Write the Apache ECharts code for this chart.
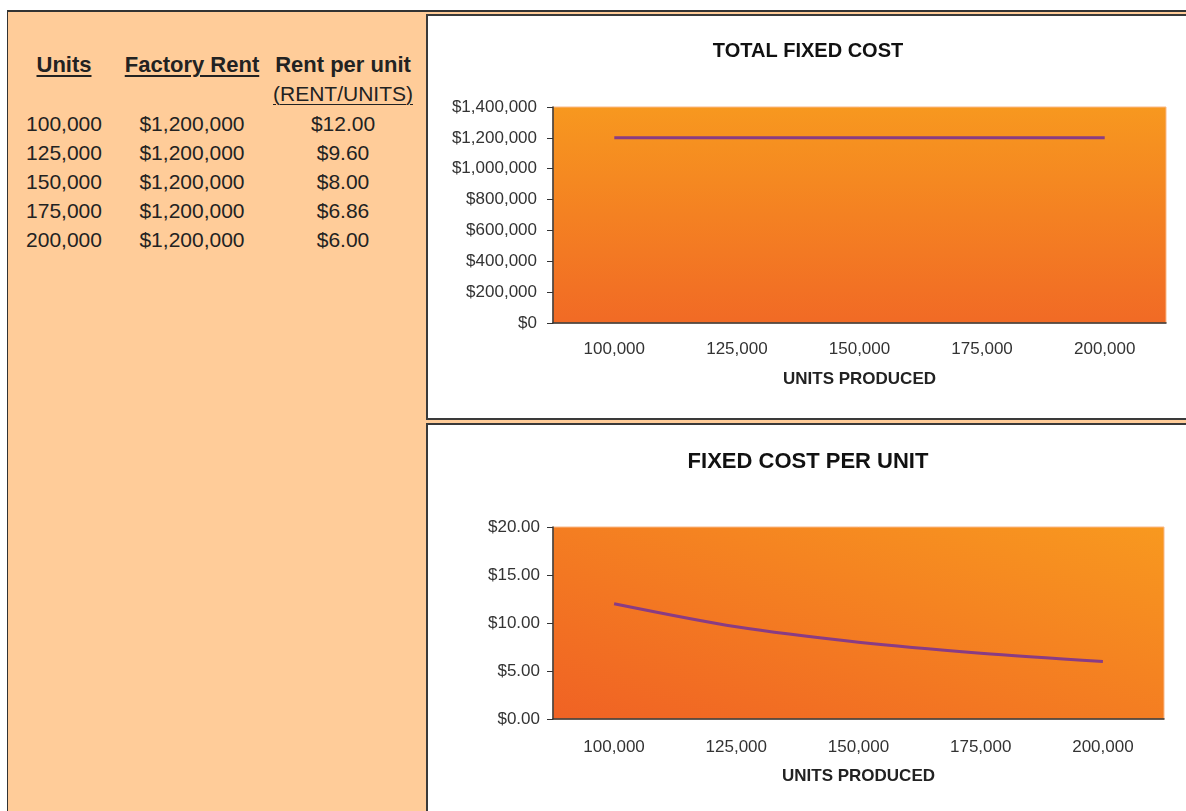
<!DOCTYPE html>
<html>
<head>
<meta charset="utf-8">
<script src="https://cdn.jsdelivr.net/npm/echarts@6/dist/echarts.min.js"></script>
<style>
    body { margin: 0; width: 1186px; height: 811px; overflow: hidden; background: #fff; font-family: "Liberation Sans", Arial, sans-serif; }
    #panel { position: absolute; left: 7px; top: 10px; width: 1200px; height: 820px; background: #FFCC99; border-top: 2px solid #333; border-left: 1px solid #333; }
    .box { position: absolute; left: 426px; width: 800px; background: #fff; border: 2px solid #3a3a3a; }
    #box1 { top: 14px; height: 402px; }
    #box2 { top: 423px; height: 400px; }
    .chart { position: absolute; left: 0; top: 0; width: 760px; }
    .cell { position: absolute; width: 200px; height: 30px; line-height: 30px; text-align: center; font-size: 21px; color: #222; }
    .head { font-weight: bold; font-size: 22px; }
    .head u { text-decoration-thickness: 2px; text-underline-offset: 3px; }
</style>
</head>
<body>
<div id="panel"></div>
<div id="table"></div>
<div class="box" id="box1"><div class="chart" id="chart1" style="height:402px"></div></div>
<div class="box" id="box2"><div class="chart" id="chart2" style="height:400px"></div></div>
<script>
    // 数据
    var units = [100000, 125000, 150000, 175000, 200000];
    var factoryRent = [1200000, 1200000, 1200000, 1200000, 1200000];
    var rentPerUnit = [12.00, 9.60, 8.00, 6.86, 6.00];
    var unitLabels = ['100,000', '125,000', '150,000', '175,000', '200,000'];

    function money(v, d) {
        return '$' + v.toLocaleString('en-US', { minimumFractionDigits: d, maximumFractionDigits: d });
    }

    // left table
    (function () {
        var table = document.getElementById('table');
        function cell(x, y, html, cls) {
            var el = document.createElement('div');
            el.className = 'cell' + (cls ? ' ' + cls : '');
            el.style.left = (x - 100) + 'px';
            el.style.top = (y - 15) + 'px';
            el.innerHTML = html;
            table.appendChild(el);
        }
        cell(64, 65, '<u>Units</u>', 'head');
        cell(192, 65, '<u>Factory Rent</u>', 'head');
        cell(343, 65, 'Rent per unit', 'head');
        cell(343, 94, '<u style="text-decoration-thickness:1px;text-underline-offset:3px">(RENT/UNITS)</u>');
        units.forEach(function (u, i) {
            var y = 124 + 29 * i;
            cell(64, y, unitLabels[i]);
            cell(192, y, money(factoryRent[i], 0));
            cell(343, y, money(rentPerUnit[i], 2));
        });
    })();

    var font = '"Liberation Sans", Arial, sans-serif';

    function makeOption(o) {
        return {
            animation: false,
            title: {
                text: o.title, left: 'center', top: o.titleTop, padding: 0,
                textStyle: { fontFamily: font, fontSize: o.titleSize, fontWeight: 'bold', color: '#111' }
            },
            grid: {
                left: 125, top: o.gridTop, width: o.gridWidth, height: o.gridHeight,
                show: true, borderWidth: 1, borderColor: '#F9B98A', backgroundColor: o.bg
            },
            xAxis: {
                type: 'category', data: unitLabels, boundaryGap: true,
                name: 'UNITS PRODUCED', nameLocation: 'middle', nameGap: o.nameGap,
                nameTextStyle: { fontFamily: font, fontSize: 17, fontWeight: 'bold', color: '#222' },
                axisLine: { lineStyle: { color: '#333', width: 1.5 } },
                axisTick: { length: 6, lineStyle: { color: '#333' } },
                axisLabel: { margin: o.xMargin, fontFamily: font, fontSize: 17, color: '#333' }
            },
            yAxis: {
                type: 'value', min: 0, max: o.max, interval: o.interval,
                axisLine: { show: true, lineStyle: { color: '#333', width: 1.5 } },
                axisTick: { show: true, length: 6, lineStyle: { color: '#333' } },
                splitLine: { show: false },
                axisLabel: { margin: o.yMargin, fontFamily: font, fontSize: 17, color: '#333', formatter: o.fmt }
            },
            series: [{
                type: 'line', data: o.data, smooth: o.smooth, showSymbol: false,
                lineStyle: { color: '#893C84', width: 3 }
            }]
        };
    }

    var chart1 = echarts.init(document.getElementById('chart1'));
    chart1.setOption(makeOption({
        title: 'TOTAL FIXED COST', titleTop: 25, titleSize: 20,
        gridTop: 91, gridWidth: 613, gridHeight: 216,
        bg: new echarts.graphic.LinearGradient(0, 0, 0, 1, [
            { offset: 0, color: '#F7981F' }, { offset: 1, color: '#F16A25' }
        ]),
        nameGap: 48, xMargin: 18, yMargin: 16,
        max: 1400000, interval: 200000,
        fmt: function (v) { return money(v, 0); },
        data: factoryRent, smooth: false
    }));

    // diagonal gradient, dark bottom-left to light top-right
    var chart2 = echarts.init(document.getElementById('chart2'));
    chart2.setOption(makeOption({
        title: 'FIXED COST PER UNIT', titleTop: 26, titleSize: 22,
        gridTop: 102, gridWidth: 611, gridHeight: 192,
        bg: new echarts.graphic.LinearGradient(0, 1, 0.179, -0.817, [
            { offset: 0, color: '#F06224' }, { offset: 1, color: '#F8991F' }
        ]),
        nameGap: 49, xMargin: 20, yMargin: 13,
        max: 20, interval: 5,
        fmt: function (v) { return money(v, 2); },
        data: rentPerUnit, smooth: 0.3
    }));
</script>
</body>
</html>
